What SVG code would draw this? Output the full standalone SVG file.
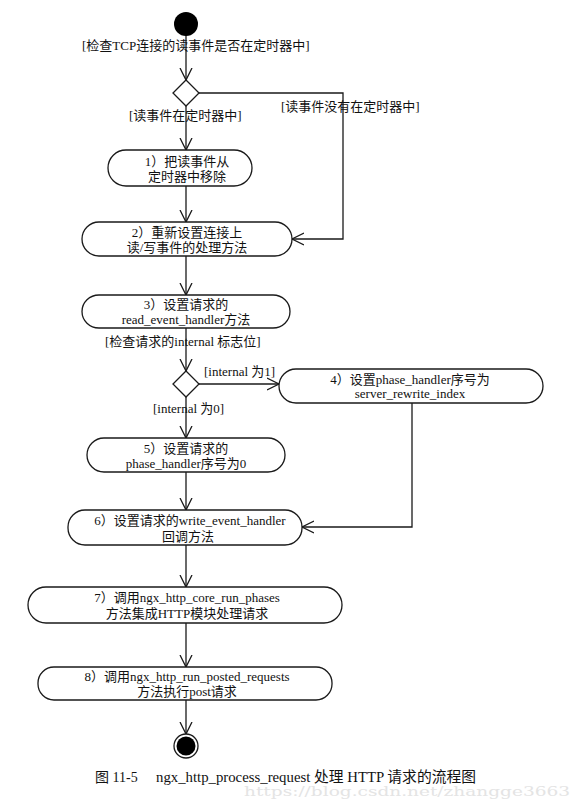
<svg xmlns="http://www.w3.org/2000/svg" width="576" height="801" viewBox="0 0 576 801">
<style>
.n{fill:#fff;stroke:#1a1a1a;stroke-width:1.3}
.c{fill:none;stroke:#1a1a1a;stroke-width:1.3}
text{font-family:"Liberation Serif","Noto Sans CJK SC",serif;font-size:13px;fill:#111}
.m{text-anchor:middle}
</style>
<defs>
<marker id="a" markerUnits="userSpaceOnUse" markerWidth="14" markerHeight="14" refX="12" refY="6" orient="auto" viewBox="0 0 14 12">
<path d="M0,0 L12,6 L0,12" fill="none" stroke="#1a1a1a" stroke-width="1.3"/>
</marker>
</defs>
<rect width="576" height="801" fill="#fff"/>
<g id="connectors">
<path class="c" d="M186,35 V80" marker-end="url(#a)"/>
<path class="c" d="M186,106 V150" marker-end="url(#a)"/>
<path class="c" d="M199,93 H343 V239 H292" marker-end="url(#a)"/>
<path class="c" d="M186,186 V222" marker-end="url(#a)"/>
<path class="c" d="M186,256 V295" marker-end="url(#a)"/>
<path class="c" d="M186,328 V371" marker-end="url(#a)"/>
<path class="c" d="M199,384 H279" marker-end="url(#a)"/>
<path class="c" d="M186,397 V438" marker-end="url(#a)"/>
<path class="c" d="M412,403 V527 H302" marker-end="url(#a)"/>
<path class="c" d="M186,472 V510" marker-end="url(#a)"/>
<path class="c" d="M186,545 V587" marker-end="url(#a)"/>
<path class="c" d="M186,623 V667" marker-end="url(#a)"/>
<path class="c" d="M186,700 V734" marker-end="url(#a)"/>
</g>
<g id="labels">
<text x="82" y="50">[检查TCP连接的读事件是否在定时器中]</text>
<text x="129" y="120">[读事件在定时器中]</text>
<text x="281" y="111">[读事件没有在定时器中]</text>
<text x="105" y="346">[检查请求的internal 标志位]</text>
<text x="204" y="376">[internal 为1]</text>
<text x="153" y="413">[internal 为0]</text>
</g>
<g id="start"><circle cx="186" cy="24" r="12" fill="#000"/></g>
<g id="d1"><path class="n" d="M186,80 L199,93 L186,106 L173,93 Z"/></g>
<g id="n1"><rect class="n" x="108" y="150" width="144" height="36" rx="18"/>
<text class="m" x="187" y="166">1）把读事件从</text><text class="m" x="187" y="181">定时器中移除</text></g>
<g id="n2"><rect class="n" x="82" y="222" width="210" height="34" rx="17"/>
<text class="m" x="187" y="237">2）重新设置连接上</text><text class="m" x="187" y="252">读/写事件的处理方法</text></g>
<g id="n3"><rect class="n" x="82" y="295" width="208" height="33" rx="17"/>
<text class="m" x="186" y="309">3）设置请求的</text><text class="m" x="186" y="324">read_event_handler方法</text></g>
<g id="d2"><path class="n" d="M186,371 L199,384 L186,397 L173,384 Z"/></g>
<g id="n4"><rect class="n" x="279" y="369" width="264" height="34" rx="17"/>
<text class="m" x="410" y="384">4）设置phase_handler序号为</text><text class="m" x="410" y="398">server_rewrite_index</text></g>
<g id="n5"><rect class="n" x="87" y="438" width="198" height="34" rx="17"/>
<text class="m" x="186" y="453">5）设置请求的</text><text class="m" x="186" y="468">phase_handler序号为0</text></g>
<g id="n6"><rect class="n" x="68" y="510" width="234" height="35" rx="17"/>
<text class="m" x="190" y="525">6）设置请求的write_event_handler</text><text class="m" x="188" y="541">回调方法</text></g>
<g id="n7"><rect class="n" x="28" y="587" width="314" height="36" rx="18"/>
<text class="m" x="187" y="602">7）调用ngx_http_core_run_phases</text><text class="m" x="187" y="618">方法集成HTTP模块处理请求</text></g>
<g id="n8"><rect class="n" x="38" y="667" width="294" height="33" rx="16"/>
<text class="m" x="187" y="681">8）调用ngx_http_run_posted_requests</text><text class="m" x="187" y="696">方法执行post请求</text></g>
<g id="end"><circle cx="186" cy="746" r="12" fill="#fff" stroke="#1a1a1a" stroke-width="1.3"/><circle cx="186" cy="746" r="9.5" fill="#000"/></g>
<g id="caption">
<text x="244" y="796" style="font-family:'DejaVu Serif',serif;font-size:13px;fill:#e4e4e4" textLength="326" lengthAdjust="spacingAndGlyphs">https://blog.csdn.net/zhangge3663</text>
<text x="95" y="782" style="font-size:14px">图 11-5</text>
<text x="156" y="782" style="font-size:14.5px" textLength="320" lengthAdjust="spacingAndGlyphs">ngx_http_process_request 处理 HTTP 请求的流程图</text>
</g>
</svg>
